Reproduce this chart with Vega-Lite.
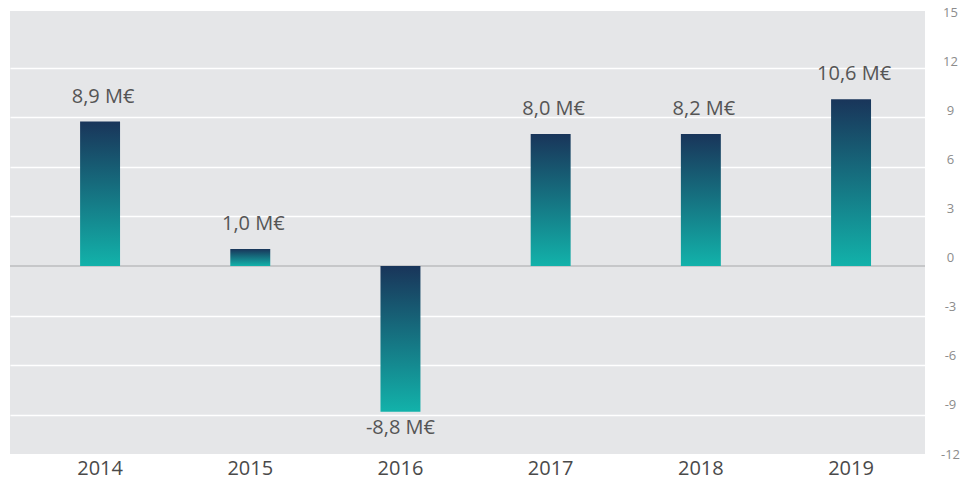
{
  "$schema": "https://vega.github.io/schema/vega-lite/v6.json",
  "autosize": {"type": "none"},
  "padding": {"left": 10, "top": 11, "right": 42, "bottom": 28},
  "width": 915,
  "height": 443,
  "background": "#ffffff",
  "config": {
    "view": {"fill": "#e5e6e8", "stroke": null},
    "font": "Open Sans"
  },
  "data": {
    "values": [
      {"year": "2014", "value": 8.75, "label": "8,9 M€"},
      {"year": "2015", "value": 1.03, "label": "1,0 M€"},
      {"year": "2016", "value": -8.83, "label": "-8,8 M€"},
      {"year": "2017", "value": 8.0, "label": "8,0 M€"},
      {"year": "2018", "value": 8.0, "label": "8,2 M€"},
      {"year": "2019", "value": 10.1, "label": "10,6 M€"}
    ]
  },
  "encoding": {
    "x": {
      "field": "year",
      "type": "nominal",
      "scale": {"paddingInner": 0.734, "paddingOuter": 0.413, "align": 0.565},
      "axis": {
        "title": null,
        "orient": "bottom",
        "labelAngle": 0,
        "ticks": false,
        "domain": false,
        "labelFontSize": 20,
        "labelColor": "#4a4a4a",
        "labelPadding": 4,
        "labelFont": "Open Sans"
      }
    }
  },
  "layer": [
    {
      "encoding": {
        "y": {
          "field": "value",
          "type": "quantitative",
          "scale": {"domain": [-11.39, 15.45], "nice": false, "zero": false},
          "axis": {
            "orient": "left",
            "title": null,
            "labels": false,
            "ticks": false,
            "domain": false,
            "grid": true,
            "gridColor": "#ffffff",
            "gridWidth": 1.5,
            "values": [-9, -6, -3, 3, 6, 9, 12]
          }
        }
      },
      "layer": [
        {
          "mark": {"type": "rule", "color": "#c6c7c9", "strokeWidth": 1.5},
          "encoding": {"y": {"datum": 0}, "x": null}
        },
        {
          "mark": {
            "type": "bar",
            "color": {
              "gradient": "linear",
              "x1": 0, "y1": 0, "x2": 0, "y2": 1,
              "stops": [
                {"offset": 0, "color": "#19355a"},
                {"offset": 1, "color": "#12b2aa"}
              ]
            }
          },
          "encoding": {"y2": {"datum": 0}}
        },
        {
          "transform": [{"filter": "datum.value >= 0"}],
          "mark": {"type": "text", "baseline": "middle", "dy": -25, "dx": 3, "fontSize": 20, "color": "#555555", "font": "Open Sans"},
          "encoding": {"text": {"field": "label"}}
        },
        {
          "transform": [{"filter": "datum.value < 0"}],
          "mark": {"type": "text", "baseline": "middle", "dy": 16, "dx": 0, "fontSize": 20, "color": "#555555", "font": "Open Sans"},
          "encoding": {"text": {"field": "label"}}
        }
      ]
    },
    {
      "mark": {"type": "point", "opacity": 0},
      "encoding": {
        "y": {
          "field": "value",
          "type": "quantitative",
          "scale": {"domain": [-12, 15.12], "nice": false, "zero": false},
          "axis": {
            "orient": "right",
            "title": null,
            "ticks": false,
            "domain": false,
            "grid": false,
            "values": [15, 12, 9, 6, 3, 0, -3, -6, -9, -12],
            "labelExpr": "datum.value < 0 ? '-' + abs(datum.value) : '' + datum.value",
            "labelAlign": "center",
            "labelPadding": 25,
            "labelFontSize": 13,
            "labelColor": "#8c8c8c",
            "labelFont": "Open Sans"
          }
        }
      }
    }
  ],
  "resolve": {"scale": {"y": "independent"}}
}
